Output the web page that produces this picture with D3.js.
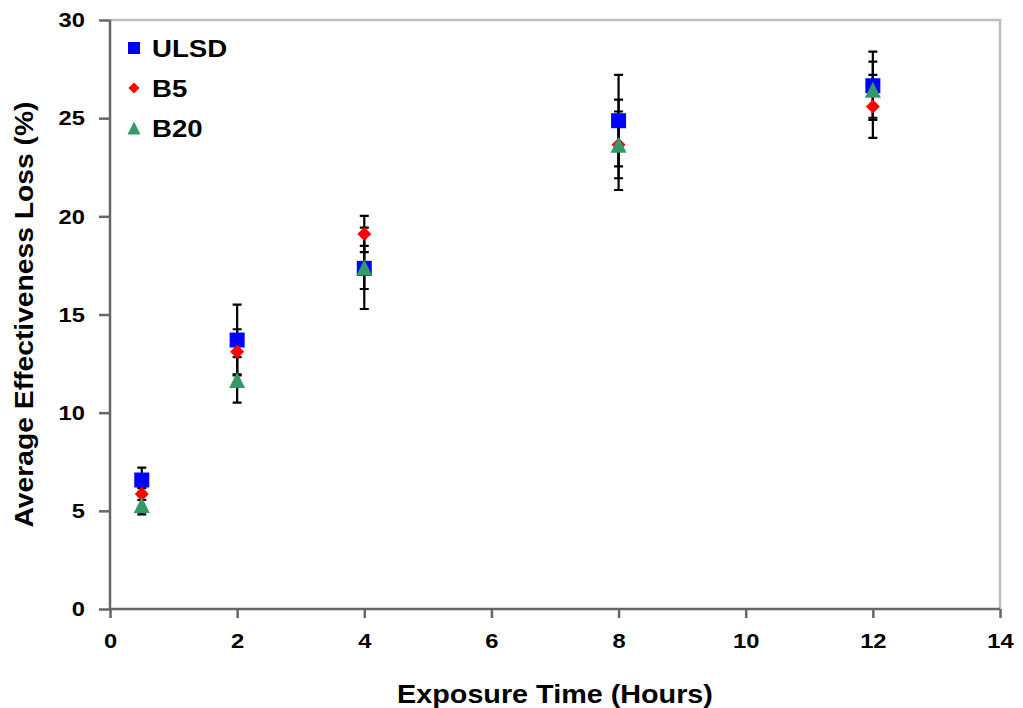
<!DOCTYPE html>
<html>
<head>
<meta charset="utf-8">
<script src="https://cdn.jsdelivr.net/npm/d3@7"></script>
<style>
  html, body { margin: 0; padding: 0; background: #fff; }
  svg { display: block; }
  text { font-family: "Liberation Sans", Arial, Helvetica, sans-serif; font-weight: bold; fill: #000; }
</style>
</head>
<body>
<svg id="chart" width="1023" height="708"></svg>
<script>
// Exposure times (hours)
const hours = [0.5, 2, 4, 8, 12];

// Average effectiveness loss (%) and error bar half-widths per fuel
const ulsd    = [6.57, 13.7, 17.35, 24.87, 26.65];
const ulsdErr = [0.63, 1.8, 2.07, 2.33, 1.74];
const b5      = [5.86, 13.1, 19.1, 23.64, 25.6];
const b5Err   = [0.3, 1.15, 0.92, 2.3, 1.6];
const b20     = [5.3, 11.67, 17.4, 23.64, 26.45];
const b20Err  = [0.48, 1.16, 1.1, 1.7, 1.43];

const seriesNames = ["ULSD", "B5", "B20"];
const xTicks = [0, 2, 4, 6, 8, 10, 12, 14];
const yTicks = [0, 5, 10, 15, 20, 25, 30];

const series = [
  { name: seriesNames[0], values: ulsd, errors: ulsdErr, color: "#0000ff", shape: "square" },
  { name: seriesNames[1], values: b5,   errors: b5Err,   color: "#ff0000", shape: "diamond" },
  { name: seriesNames[2], values: b20,  errors: b20Err,  color: "#339966", shape: "triangle" }
];

const svg = d3.select("#chart");
const plotL = 110, plotR = 1000, plotT = 20, plotB = 609;

const x = d3.scaleLinear().domain([0, 14]).range([plotL, plotR]);
const y = d3.scaleLinear().domain([0, 30]).range([plotB, plotT]);

// Widen glyphs slightly, like the original rendering
function stretch(sel, k) {
  sel.each(function () {
    const w = this.getComputedTextLength();
    d3.select(this).attr("textLength", w * k).attr("lengthAdjust", "spacingAndGlyphs");
  });
}

// Plot frame (light top and right edges)
svg.append("path")
  .attr("d", `M${plotL},${plotT}H${plotR}V${plotB}`)
  .attr("fill", "none").attr("stroke", "#bdbdbd").attr("stroke-width", 2.5);

// Axes
const xAxis = svg.append("g").attr("transform", `translate(0,${plotB})`)
  .call(d3.axisBottom(x).tickValues(xTicks).tickSize(9).tickPadding(15).tickFormat(d3.format("d")));
const yAxis = svg.append("g").attr("transform", `translate(${plotL},0)`)
  .call(d3.axisLeft(y).tickValues(yTicks).tickSize(11).tickPadding(14).tickFormat(d3.format("d")));

[xAxis, yAxis].forEach(a => {
  a.select(".domain").attr("stroke", "#666").attr("stroke-width", 2.5);
  a.selectAll(".tick line").attr("stroke", "#666").attr("stroke-width", 2.5);
  a.selectAll(".tick text")
    .attr("fill", "#000")
    .style("font-size", "21px")
    .style("font-family", "'Liberation Sans', Arial, sans-serif")
    .style("font-weight", "bold")
    .call(stretch, 1.13);
});
xAxis.select(".domain").attr("d", `M${plotL},0H${plotR}`);
yAxis.select(".domain").attr("d", `M0,${plotT}V${plotB}`);

// Axis titles
svg.append("text")
  .attr("x", (plotL + plotR) / 2).attr("y", 703)
  .attr("text-anchor", "middle").style("font-size", "25px")
  .text("Exposure Time (Hours)").call(stretch, 1.15);

svg.append("text")
  .attr("transform", `translate(33,${(plotT + plotB) / 2}) rotate(-90)`)
  .attr("text-anchor", "middle").style("font-size", "25px")
  .text("Average Effectiveness Loss (%)").call(stretch, 1.13);

// Error bars (drawn beneath all markers)
const capHalf = 4.5;
series.forEach(s => {
  const g = svg.append("g").attr("stroke", "#000").attr("stroke-width", 2.2).attr("fill", "none");
  hours.forEach((h, i) => {
    const cx = x(h), hi = y(s.values[i] + s.errors[i]), lo = y(s.values[i] - s.errors[i]);
    g.append("path").attr("d",
      `M${cx},${hi}V${lo}M${cx - capHalf},${hi}H${cx + capHalf}M${cx - capHalf},${lo}H${cx + capHalf}`);
  });
});

// Marker shapes
function markerPath(shape, size) {
  const r = size / 2;
  if (shape === "square") return `M${-r},${-r}H${r}V${r}H${-r}Z`;
  if (shape === "diamond") return `M0,${-r}L${r},0L0,${r}L${-r},0Z`;
  return `M0,${-r}L${r},${r}L${-r},${r}Z`;
}
const markerSize = { square: 15, diamond: 14, triangle: 16 };

series.forEach(s => {
  svg.append("g").selectAll("path")
    .data(hours.map((h, i) => [h, s.values[i]]))
    .join("path")
    .attr("transform", d => `translate(${x(d[0])},${y(d[1])})`)
    .attr("d", markerPath(s.shape, markerSize[s.shape]))
    .attr("fill", s.color);
});

// Legend
const legend = svg.append("g");
const legendSize = { square: 12, diamond: 11, triangle: 13 };
series.forEach((s, i) => {
  const cy = 48 + i * 40;
  legend.append("path")
    .attr("transform", `translate(134,${cy})`)
    .attr("d", markerPath(s.shape, legendSize[s.shape]))
    .attr("fill", s.color);
  legend.append("text")
    .attr("x", 152).attr("y", cy + 8.5)
    .style("font-size", "24px")
    .text(s.name).call(stretch, 1.15);
});
</script>
</body>
</html>
